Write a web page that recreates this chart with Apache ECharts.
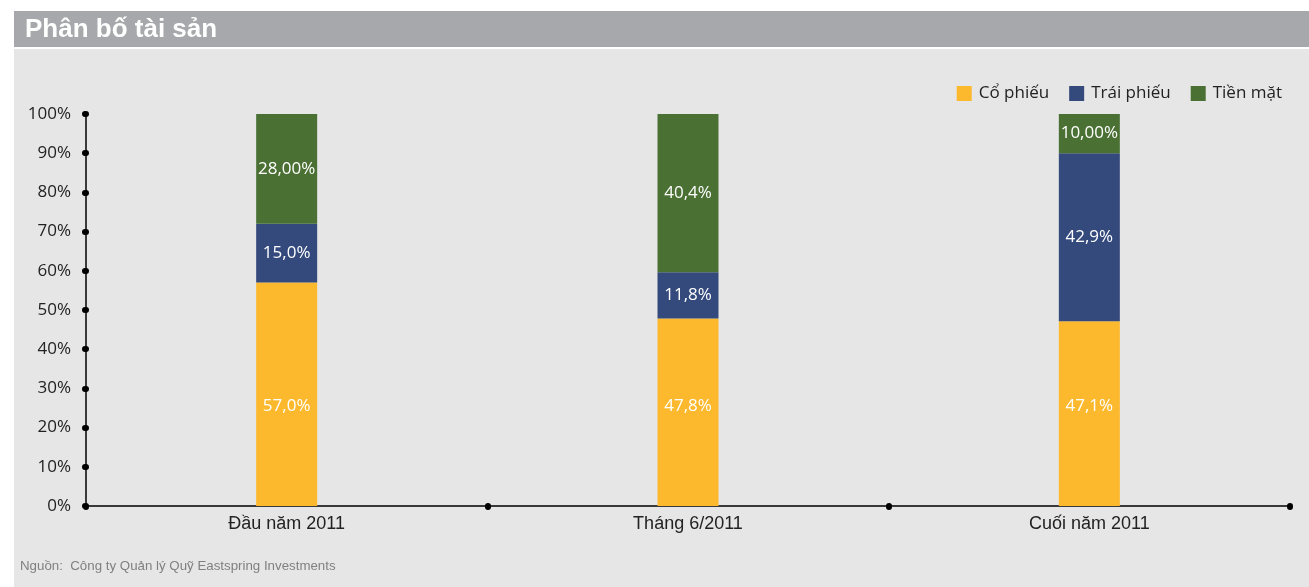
<!DOCTYPE html>
<html>
<head>
<meta charset="utf-8">
<title>Phân bố tài sản</title>
<script src="https://cdn.jsdelivr.net/npm/echarts@6/dist/echarts.min.js"></script>
<style>
  html, body { margin: 0; padding: 0; background: #ffffff; }
  #chart { width: 1309px; height: 587px; }
</style>
</head>
<body>
<div id="chart"></div>
<script>
// Asset allocation of the fund at three points in 2011 (percent of total)
const categories = ['Đầu năm 2011', 'Tháng 6/2011', 'Cuối năm 2011'];
const seriesNames = ['Cổ phiếu', 'Trái phiếu', 'Tiền mặt'];
const stocks = [57.0, 47.8, 47.1];
const bonds = [15.0, 11.8, 42.9];
const cash = [28.00, 40.4, 10.00];
// number of decimals printed in each bar label
const stockDecimals = [1, 1, 1];
const bondDecimals = [1, 1, 1];
const cashDecimals = [2, 1, 2];
const yTicks = [0, 10, 20, 30, 40, 50, 60, 70, 80, 90, 100];

const colors = ['#fdb92d', '#344a7c', '#4a7033'];
const bodyFont = '"Open Sans", "Noto Sans", sans-serif';

function fmt(v, d) {
  return v.toFixed(d).replace('.', ',') + '%';
}

function barSeries(name, values, decimals, color, labelPos) {
  return {
    name: name,
    type: 'bar',
    stack: 'total',
    barWidth: 61,
    itemStyle: { color: color },
    data: values.map((v, i) => ({ value: v, decimals: decimals[i] })),
    label: Object.assign({
      show: true,
      color: '#ffffff',
      fontFamily: bodyFont,
      fontSize: 17,
      formatter: p => fmt(p.value, p.data.decimals)
    }, labelPos)
  };
}

const chart = echarts.init(document.getElementById('chart'), null, { renderer: 'canvas' });

chart.setOption({
  backgroundColor: '#ffffff',
  animation: false,
  graphic: [
    { type: 'rect', left: 14, top: 11, shape: { width: 1295, height: 36 }, style: { fill: '#a7a8ab' }, z: -10 },
    { type: 'rect', left: 14, top: 49, shape: { width: 1295, height: 538 }, style: { fill: '#e6e6e6' }, z: -10 },
    { type: 'text', left: 25, top: 17, style: { text: 'Phân bố tài sản', fill: '#ffffff', font: 'bold 26px "Liberation Sans", Arial, sans-serif' } },
    { type: 'text', left: 20, top: 560, style: { text: 'Nguồn:  Công ty Quản lý Quỹ Eastspring Investments', fill: '#808080', font: '13.3px "Liberation Sans", Arial, sans-serif' } }
  ],
  legend: {
    data: seriesNames,
    right: 22,
    top: 80,
    itemWidth: 15,
    itemHeight: 15,
    itemGap: 20,
    icon: 'rect',
    textStyle: { fontFamily: bodyFont, fontSize: 17, color: '#222222', padding: [0, 0, 0, 2] }
  },
  grid: { left: 86, right: 19, top: 114, bottom: 81 },
  xAxis: {
    type: 'category',
    data: categories,
    boundaryGap: true,
    axisLine: { lineStyle: { color: '#000000', width: 1.5 } },
    axisTick: { show: true, length: 1, lineStyle: { color: '#000000', width: 6, cap: 'round' } },
    axisLabel: { color: '#222222', fontFamily: '"Liberation Sans", Arial, sans-serif', fontSize: 18, margin: 9 }
  },
  yAxis: {
    type: 'value',
    min: yTicks[0],
    max: yTicks[yTicks.length - 1],
    interval: yTicks[1] - yTicks[0],
    splitLine: { show: false },
    axisLine: { show: true, lineStyle: { color: '#000000', width: 1.5 } },
    axisTick: { show: true, length: 1, lineStyle: { color: '#000000', width: 6, cap: 'round' } },
    axisLabel: { color: '#222222', fontFamily: bodyFont, fontSize: 17, margin: 15, padding: [10, 0, 0, 0], formatter: v => v + '%' }
  },
  series: [
    barSeries(seriesNames[0], stocks, stockDecimals, colors[0], { position: 'insideBottom', distance: 91 }),
    barSeries(seriesNames[1], bonds, bondDecimals, colors[1], { position: 'inside' }),
    barSeries(seriesNames[2], cash, cashDecimals, colors[2], { position: 'inside' })
  ]
});
</script>
</body>
</html>
